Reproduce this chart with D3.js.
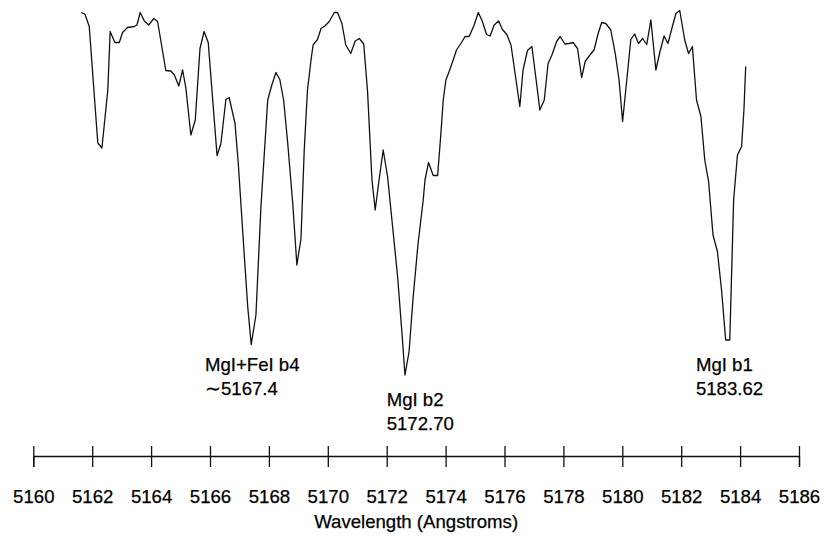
<!DOCTYPE html>
<html>
<head>
<meta charset="utf-8">
<script src="https://cdn.jsdelivr.net/npm/d3@7"></script>
<style>
  body { margin: 0; background: #fff; }
  svg text { font-family: "Liberation Sans", Arial, sans-serif; fill: #000; stroke: #000; stroke-width: 0.25px; }
</style>
</head>
<body>
<div id="chart"></div>
<script>
// wavelength (Angstroms) and relative flux
const wavelength = [
  5161.62, 5161.75, 5161.90, 5162.19, 5162.33, 5162.53, 5162.61, 5162.77, 5162.92, 5163.03,
  5163.20, 5163.43, 5163.52, 5163.63, 5163.77, 5163.92, 5164.09, 5164.22, 5164.50, 5164.67,
  5164.79, 5164.94, 5165.07, 5165.18, 5165.35, 5165.50, 5165.66, 5165.80, 5165.94, 5166.24,
  5166.37, 5166.54, 5166.65, 5166.85, 5166.96, 5167.16, 5167.28, 5167.40, 5167.56, 5167.73,
  5167.96, 5168.10, 5168.24, 5168.37, 5168.50, 5168.64, 5168.81, 5168.95, 5169.09, 5169.20,
  5169.31, 5169.43, 5169.50, 5169.65, 5169.77, 5169.90, 5170.05, 5170.22, 5170.33, 5170.48,
  5170.61, 5170.78, 5170.93, 5171.07, 5171.22, 5171.35, 5171.50, 5171.61, 5171.74, 5171.88,
  5172.03, 5172.20, 5172.37, 5172.52, 5172.62, 5172.76, 5172.89, 5173.06, 5173.24, 5173.30,
  5173.42, 5173.58, 5173.73, 5173.84, 5173.92, 5174.01, 5174.12, 5174.24, 5174.37, 5174.52,
  5174.66, 5174.80, 5174.97, 5175.11, 5175.25, 5175.39, 5175.51, 5175.65, 5175.80, 5175.93,
  5176.08, 5176.22, 5176.36, 5176.52, 5176.63, 5176.78, 5176.93, 5177.06, 5177.20, 5177.35,
  5177.48, 5177.61, 5177.77, 5177.89, 5178.05, 5178.19, 5178.33, 5178.48, 5178.62, 5178.74,
  5178.90, 5179.04, 5179.18, 5179.30, 5179.44, 5179.61, 5179.76, 5179.89, 5180.01, 5180.14,
  5180.29, 5180.42, 5180.55, 5180.69, 5180.83, 5180.97, 5181.14, 5181.28, 5181.42, 5181.55,
  5181.70, 5181.82, 5181.95, 5182.12, 5182.25, 5182.38, 5182.52, 5182.67, 5182.80, 5182.93,
  5183.08, 5183.23, 5183.37, 5183.51, 5183.65, 5183.78, 5183.91, 5184.05, 5184.13, 5184.19
];
const flux = [
  0.995, 0.992, 0.967, 0.734, 0.724, 0.840, 0.957, 0.935, 0.935, 0.955,
  0.965, 0.967, 0.970, 0.995, 0.978, 0.970, 0.983, 0.977, 0.879, 0.878,
  0.870, 0.848, 0.880, 0.844, 0.750, 0.780, 0.923, 0.957, 0.935, 0.709,
  0.733, 0.821, 0.825, 0.773, 0.693, 0.513, 0.407, 0.331, 0.390, 0.607,
  0.820, 0.850, 0.875, 0.861, 0.820, 0.733, 0.613, 0.490, 0.543, 0.720,
  0.840, 0.900, 0.930, 0.941, 0.963, 0.968, 0.977, 0.995, 0.995, 0.973,
  0.930, 0.913, 0.938, 0.943, 0.932, 0.837, 0.660, 0.600, 0.660, 0.720,
  0.667, 0.567, 0.467, 0.353, 0.270, 0.317, 0.420, 0.530, 0.620, 0.660,
  0.695, 0.669, 0.669, 0.753, 0.820, 0.860, 0.877, 0.897, 0.920, 0.933,
  0.947, 0.947, 0.970, 0.995, 0.977, 0.951, 0.948, 0.970, 0.978, 0.961,
  0.951, 0.930, 0.873, 0.807, 0.880, 0.919, 0.927, 0.867, 0.800, 0.820,
  0.893, 0.910, 0.937, 0.947, 0.932, 0.933, 0.935, 0.923, 0.865, 0.897,
  0.910, 0.920, 0.953, 0.975, 0.973, 0.960, 0.913, 0.860, 0.777, 0.853,
  0.941, 0.952, 0.933, 0.943, 0.931, 0.980, 0.880, 0.917, 0.948, 0.933,
  0.967, 0.993, 0.999, 0.940, 0.913, 0.927, 0.820, 0.787, 0.700, 0.657,
  0.550, 0.517, 0.440, 0.340, 0.340, 0.620, 0.710, 0.727, 0.800, 0.887
];

const tickValues = [5160, 5162, 5164, 5166, 5168, 5170, 5172, 5174, 5176, 5178, 5180, 5182, 5184, 5186];

// line labels: left edge (wavelength), baseline flux, two text lines
const lineLabels = [
  { at: 5165.83, level: 0.279, lines: ["MgI+FeI b4", "\u223C5167.4"] },
  { at: 5172.00, level: 0.209, lines: ["MgI b2", "5172.70"] },
  { at: 5182.50, level: 0.279, lines: ["MgI b1", "5183.62"] }
];

const W = 824, H = 536;
const axisY = 456;
const fontSize = "18.6px";

const svg = d3.select("#chart").append("svg")
  .attr("width", W)
  .attr("height", H);

const x = d3.scaleLinear().domain([5160, 5186]).range([33.3, 799]);
const y = d3.scaleLinear().domain([0.2, 1.0]).range([410, 10]);

const pts = wavelength.map((w, i) => [w, flux[i]]);

// spectrum
svg.append("path")
  .datum(pts)
  .attr("fill", "none")
  .attr("stroke", "#111")
  .attr("stroke-width", 1.3)
  .attr("stroke-linejoin", "round")
  .attr("d", d3.line().x(d => x(d[0])).y(d => y(d[1])));

// axis, ticks cross the line
const gx = svg.append("g")
  .attr("transform", `translate(0,${axisY})`)
  .call(d3.axisBottom(x).tickValues(tickValues).tickFormat(d3.format("d")).tickSizeOuter(0).tickSize(11));

gx.select(".domain").attr("stroke", "#111").attr("stroke-width", 1.3);
gx.selectAll(".tick line").attr("y1", -10).attr("y2", 11).attr("stroke", "#111").attr("stroke-width", 1.3);
gx.selectAll(".tick text")
  .attr("y", 47)
  .attr("dy", 0)
  .style("font-family", "'Liberation Sans', Arial, sans-serif")
  .style("font-size", fontSize)
  .attr("fill", "#000");

svg.append("text")
  .attr("x", x(5173))
  .attr("y", 528)
  .attr("text-anchor", "middle")
  .style("font-size", fontSize)
  .text("Wavelength (Angstroms)");

// labels for the Mg b lines
lineLabels.forEach(l => {
  const t = svg.append("text")
    .attr("x", x(l.at))
    .attr("y", y(l.level))
    .style("font-size", fontSize);
  l.lines.forEach((s, i) => {
    t.append("tspan")
      .attr("x", x(l.at))
      .attr("dy", i === 0 ? 0 : 24)
      .text(s);
  });
});
</script>
</body>
</html>
